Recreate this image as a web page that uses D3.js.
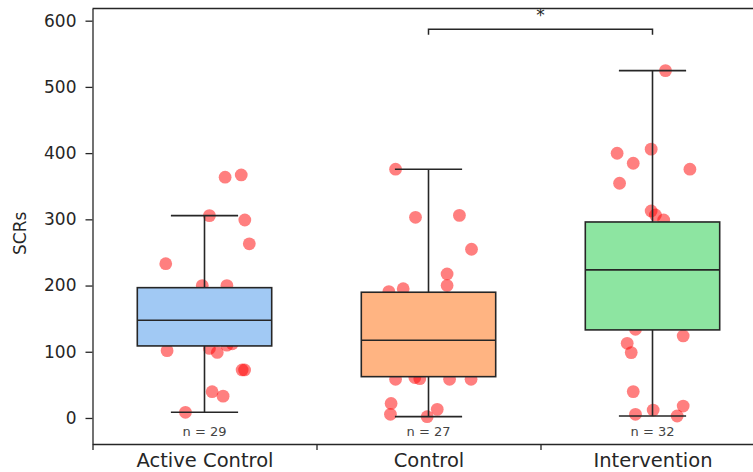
<!DOCTYPE html>
<html>
<head>
<meta charset="utf-8">
<script src="https://cdn.jsdelivr.net/npm/d3@7"></script>
<style>
  html, body { margin: 0; padding: 0; background: #fff; overflow: hidden; }
  svg { display: block; }
</style>
</head>
<body>
<svg id="chart" width="753" height="472"></svg>
<script>
// Groups and per-participant SCR counts (strip points), with the horizontal jitter of each point
const categories = ["Active Control", "Control", "Intervention"];

const activeValues = [363.6, 367, 305.6, 299, 263, 233, 200, 200, 101.7, 105, 99, 110, 112, 72.5, 72.5, 39.7, 33, 8.6,
                      121, 128, 134, 141, 147, 150, 156, 163, 170, 178, 185];
const activeJitter = [0.092, 0.164, 0.022, 0.18, 0.2, -0.173, -0.01, 0.10, -0.167, 0.022, 0.057, 0.10, 0.124, 0.168, 0.179, 0.034, 0.083, -0.085,
                      -0.12, 0.05, 0.15, -0.08, 0.02, -0.16, 0.11, -0.03, 0.07, -0.14, 0.13];

const controlValues = [375.7, 303, 306, 254.8, 217.5, 200, 195.3, 190.8, 58.5, 61, 59.4, 58.5, 58.5, 22, 5.5, 2, 13,
                       75, 84, 95, 105, 112, 120, 131, 145, 160, 175];
const controlJitter = [-0.147, -0.058, 0.138, 0.192, 0.083, 0.083, -0.113, -0.177, -0.147, -0.061, -0.039, 0.094, 0.19, -0.167, -0.17, -0.006, 0.039,
                       0.05, -0.12, 0.14, -0.03, 0.09, -0.16, 0.02, 0.12, -0.07, 0.17];

const interventionValues = [524.6, 406, 399.8, 384.7, 375.7, 354.5, 312.7, 306.6, 299, 134, 123.9, 112.8, 98.7, 39.8, 18, 12, 5.5, 3,
                            148, 158, 166, 175, 186, 197, 210, 222, 236, 248, 259, 268, 277, 285];
const interventionJitter = [0.058, -0.006, -0.158, -0.086, 0.167, -0.147, -0.006, 0.013, 0.05, -0.076, 0.137, -0.113, -0.095, -0.086, 0.137, 0.003, -0.076, 0.11,
                            -0.1, 0.12, 0.03, -0.15, 0.08, -0.04, 0.16, -0.11, 0.06, -0.02, 0.14, -0.13, 0.1, -0.06];

// Box summary per group (fliers hidden, whiskers at 1.5 IQR)
const whiskerLow  = [8.6, 2, 3];
const q1          = [108.8, 62.4, 133];
const medians     = [147.6, 117.4, 223.6];
const q3          = [196.8, 189.9, 296];
const whiskerHigh = [305.6, 375.7, 524.6];

const yTicks = [0, 100, 200, 300, 400, 500, 600];
const groupBoundaries = [-0.5, 0.5, 1.5, 2.5];

// Significance annotation between Control and Intervention
const sigPair = [1, 2];
const sigLevel = 587;
const sigDrop = 578.6;
const sigLabel = "*";

const groupValues = [activeValues, controlValues, interventionValues];
const groupJitter = [activeJitter, controlJitter, interventionJitter];

const palette = ["#a1c9f4", "#ffb482", "#8de5a1"];
const FONT = "'DejaVu Sans', sans-serif";
const INK = "#262626";

const plot = { left: 92.5, right: 764.5, top: 8.5, bottom: 444 };
const boxWidth = 0.6;

const svg = d3.select("#chart");

const x = d3.scaleLinear().domain([-0.5, 2.5]).range([plot.left, plot.right]);
const y = d3.scaleLinear().domain([-39.3, 618.4]).range([plot.bottom, plot.top]);

// Strip points (drawn first, so the boxes sit on top of them)
const pts = [];
groupValues.forEach((vals, g) => {
  vals.forEach((v, i) => pts.push({ g, v, j: groupJitter[g][i] }));
});
svg.append("g")
  .selectAll("circle")
  .data(pts)
  .join("circle")
  .attr("cx", d => x(d.g + d.j))
  .attr("cy", d => y(d.v))
  .attr("r", 6.4)
  .attr("fill", "#ff0000")
  .attr("fill-opacity", 0.5);

// Boxes, medians and whiskers
const boxes = svg.append("g")
  .selectAll("g")
  .data(categories.map((c, i) => ({ c, i })))
  .join("g");

const halfPx = (x(boxWidth) - x(0)) / 2;
const capPx = halfPx / 2;

boxes.append("line")
  .attr("x1", d => x(d.i)).attr("x2", d => x(d.i))
  .attr("y1", d => y(q3[d.i])).attr("y2", d => y(whiskerHigh[d.i]))
  .attr("stroke", INK).attr("stroke-width", 1.6);
boxes.append("line")
  .attr("x1", d => x(d.i)).attr("x2", d => x(d.i))
  .attr("y1", d => y(q1[d.i])).attr("y2", d => y(whiskerLow[d.i]))
  .attr("stroke", INK).attr("stroke-width", 1.6);
boxes.append("line")
  .attr("x1", d => x(d.i) - capPx).attr("x2", d => x(d.i) + capPx)
  .attr("y1", d => y(whiskerHigh[d.i])).attr("y2", d => y(whiskerHigh[d.i]))
  .attr("stroke", INK).attr("stroke-width", 1.6);
boxes.append("line")
  .attr("x1", d => x(d.i) - capPx).attr("x2", d => x(d.i) + capPx)
  .attr("y1", d => y(whiskerLow[d.i])).attr("y2", d => y(whiskerLow[d.i]))
  .attr("stroke", INK).attr("stroke-width", 1.6);
boxes.append("rect")
  .attr("x", d => x(d.i) - halfPx)
  .attr("width", halfPx * 2)
  .attr("y", d => y(q3[d.i]))
  .attr("height", d => y(q1[d.i]) - y(q3[d.i]))
  .attr("fill", d => palette[d.i])
  .attr("stroke", INK).attr("stroke-width", 1.6);
boxes.append("line")
  .attr("x1", d => x(d.i) - halfPx).attr("x2", d => x(d.i) + halfPx)
  .attr("y1", d => y(medians[d.i])).attr("y2", d => y(medians[d.i]))
  .attr("stroke", INK).attr("stroke-width", 1.6);

// Sample-size labels
boxes.append("text")
  .attr("x", d => x(d.i))
  .attr("y", 436)
  .attr("text-anchor", "middle")
  .attr("font-family", FONT)
  .attr("font-size", 13)
  .attr("fill", "#444")
  .text(d => "n = " + groupValues[d.i].length);

// Significance bracket
const sx0 = x(sigPair[0]), sx1 = x(sigPair[1]);
svg.append("path")
  .attr("d", `M${sx0},${y(sigDrop)}V${y(sigLevel)}H${sx1}V${y(sigDrop)}`)
  .attr("fill", "none")
  .attr("stroke", INK)
  .attr("stroke-width", 1.5);
svg.append("text")
  .attr("x", (sx0 + sx1) / 2)
  .attr("y", y(sigLevel) - 8)
  .attr("text-anchor", "middle")
  .attr("font-family", FONT)
  .attr("font-size", 17)
  .attr("fill", INK)
  .text(sigLabel);

// Axes
const yAxis = svg.append("g")
  .attr("transform", `translate(${plot.left},0)`)
  .call(d3.axisLeft(y).tickValues(yTicks).tickSize(7).tickSizeOuter(0).tickPadding(9));
yAxis.selectAll("text").attr("font-family", FONT).attr("font-size", 17).attr("fill", INK);

const xAxis = svg.append("g")
  .attr("transform", `translate(0,${plot.bottom})`)
  .call(d3.axisBottom(x).tickValues(d3.range(categories.length)).tickSize(0).tickSizeOuter(0)
    .tickPadding(9.5).tickFormat(i => categories[i]));
xAxis.selectAll("text").attr("font-family", FONT).attr("font-size", 19.5).attr("fill", INK);

const xMinor = svg.append("g")
  .attr("transform", `translate(0,${plot.bottom})`)
  .call(d3.axisBottom(x).tickValues(groupBoundaries).tickSize(6).tickSizeOuter(0).tickFormat(""));
xMinor.select(".domain").remove();

svg.selectAll(".domain, .tick line").attr("stroke", INK).attr("stroke-width", 1.3);

// Top and right spines
svg.append("line")
  .attr("x1", plot.left).attr("x2", plot.right)
  .attr("y1", plot.top).attr("y2", plot.top)
  .attr("stroke", INK).attr("stroke-width", 1.3);
svg.append("line")
  .attr("x1", plot.right).attr("x2", plot.right)
  .attr("y1", plot.top).attr("y2", plot.bottom)
  .attr("stroke", INK).attr("stroke-width", 1.3);

// Y-axis title
svg.append("text")
  .attr("transform", `translate(26,${(y(600) + y(0)) / 2 + 14}) rotate(-90)`)
  .attr("text-anchor", "middle")
  .attr("font-family", FONT)
  .attr("font-size", 17)
  .attr("fill", INK)
  .text("SCRs");
</script>
</body>
</html>
